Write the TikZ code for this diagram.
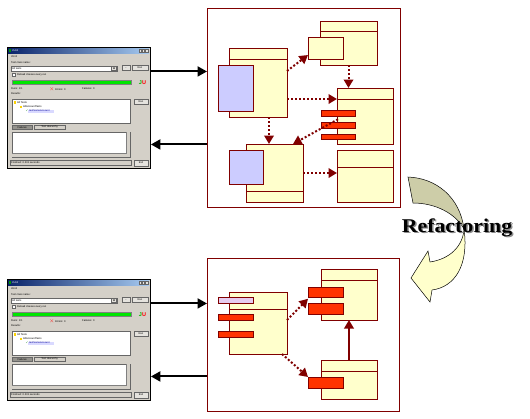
\documentclass[tikz,border=0pt]{standalone}
\usepackage{amssymb}
\usepackage{fontspec}
\setmainfont{Liberation Serif}
\newfontfamily\uifont{Liberation Sans}
\usetikzlibrary{arrows.meta,calc}
\definecolor{dred}{HTML}{800000}
\definecolor{clsfill}{HTML}{FFFFCC}
\definecolor{bluefill}{HTML}{CCCCFF}
\definecolor{barfill}{HTML}{FF3300}
\definecolor{purfill}{HTML}{E6CCF0}
\definecolor{wingray}{HTML}{D4D0C8}
\definecolor{olivec}{HTML}{CDCDA8}
\definecolor{palec}{HTML}{FFFFCC}
\definecolor{titleA}{RGB}{10,36,106}
\definecolor{titleB}{RGB}{166,202,240}
\definecolor{jgreen}{RGB}{0,230,0}
\tikzset{
  box/.style={draw=dred, line width=0.6pt, anchor=north west, inner sep=0pt, outer sep=0pt},
  cls/.style={box, fill=clsfill},
  bluebox/.style={box, fill=bluefill},
  redbar/.style={box, fill=barfill},
  purbar/.style={box, fill=purfill},
  frm/.style={draw=dred, line width=0.8pt, fill=white, anchor=north west, inner sep=0pt, outer sep=0pt},
  dep/.style={draw=dred, line width=2pt, dash pattern=on 2pt off 2pt, -{Triangle[length=8.5pt,width=9.5pt]}},
  solidred/.style={draw=dred, line width=1.8pt, -{Triangle[length=8.5pt,width=9.5pt]}},
  blk/.style={draw=black, line width=2pt, -{Triangle[length=9.5pt,width=10pt]}},
  hdr/.style={draw=dred, line width=0.6pt},
  uitxt/.style={font=\uifont\fontsize{2.6}{3}\selectfont, inner sep=0pt, anchor=west},
  btn/.style={draw=black!60, fill=wingray!60!white, line width=0.3pt, inner sep=0pt, font=\uifont\fontsize{2.6}{3}\selectfont},
  whitebox/.style={draw=black!60, fill=white, line width=0.3pt, anchor=north west, inner sep=0pt},
  junitwin/.pic={
    \node[draw=black, line width=0.9pt, fill=wingray, anchor=north west, minimum width=143pt, minimum height=121pt, inner sep=0pt] (-win) at (0,0) {};
    \fill[left color=titleA, right color=titleB] (1,1) rectangle (142,6);
    \fill[green!60!black] (1.5,2) rectangle (3.5,5);
    \node[uitxt, text=white] (-title) at (5,3.5) {JUnit};
    \node[btn, minimum width=2.5pt, minimum height=3pt] (-b1) at (133,3.5) {};
    \node[btn, minimum width=2.5pt, minimum height=3pt] (-b2) at (136,3.5) {};
    \node[btn, minimum width=2.5pt, minimum height=3pt] (-b3) at (139.5,3.5) {};
    \node[uitxt] (-menu) at (4,9.5) {JUnit};
    \node[uitxt] (-lbl) at (4,15.5) {Test class name:};
    \node[whitebox, minimum width=106pt, minimum height=4.5pt] (-field) at (4,19) {};
    \node[uitxt] (-alltests) at (5,21.25) {All tests};
    \node[btn, minimum width=5pt, minimum height=4.5pt] (-dd) at (107,21.25) {};
    \fill[black] (105.8,20.5) -- (108.2,20.5) -- (107,22) -- cycle;
    \node[btn, minimum width=8pt, minimum height=5pt] (-dots) at (119,21) {...};
    \node[btn, minimum width=16pt, minimum height=5pt] (-run) at (133,21) {Run};
    \node[whitebox, minimum width=3pt, minimum height=3pt] (-chk) at (5,26) {};
    \node[uitxt] (-reload) at (10,27.5) {Reload classes every run};
    \node[draw=black!50, fill=jgreen, line width=0.3pt, anchor=north west, minimum width=119pt, minimum height=4pt, inner sep=0pt] (-bar) at (5,33) {};
    \node[inner sep=0pt, font=\uifont\bfseries\fontsize{5.5}{6}\selectfont] (-ju) at (135.5,36) {\textcolor{green!70!black}{J}\textcolor{red}{U}};
    \node[uitxt] (-runs) at (4,42) {Runs: 1/1};
    \node[uitxt] (-err) at (42,42) {\textcolor{red}{$\times$} Errors: 0};
    \node[uitxt] (-fail) at (75,42) {Failures: 0};
    \node[uitxt] (-res) at (4,47) {Results:};
    \node[whitebox, minimum width=118pt, minimum height=24pt] (-tree) at (5,52) {};
    \node[btn, minimum width=14pt, minimum height=5pt] (-run2) at (134,54.5) {Run};
    \fill[yellow!70!orange] (6.5,54) rectangle (9,56.5);
    \node[uitxt] (-t1) at (10,55.25) {All Tests};
    \fill[yellow!70!orange] (12.5,58.5) rectangle (15,61);
    \node[uitxt] (-t2) at (16,59.75) {AllAccountTests};
    \fill[blue!15] (21,62.5) rectangle (47,65.5);
    \node[uitxt, text=green!50!black] (-tick) at (18.5,64) {\checkmark};
    \node[uitxt, text=blue!60!black] (-t3) at (22,64) {testSomeAccount};
    \node[btn, fill=wingray!70!black, minimum width=20pt, minimum height=4pt, anchor=north west] (-tab1) at (5,78) {Failures};
    \node[btn, fill=wingray, minimum width=31pt, minimum height=4pt, anchor=north west] (-tab2) at (27,78) {Test Hierarchy};
    \node[whitebox, minimum width=118pt, minimum height=25pt] (-out) at (5,85) {};
    \fill[wingray] (119,85.3) rectangle (122.7,106);
    \fill[wingray] (5.3,106) rectangle (122.7,109.7);
    \draw[black!50, line width=0.2pt] (119,85) -- (119,106) -- (5,106);
    \node[whitebox, fill=wingray, minimum width=121pt, minimum height=5pt] (-status) at (3,113) {};
    \node[uitxt] (-fin) at (4,115.5) {Finished: 0.201 seconds};
    \node[btn, minimum width=14pt, minimum height=6pt] (-exit) at (134,116) {Exit};
  }
}
\begin{document}
\begin{tikzpicture}[x=1pt,y=-1pt]
\useasboundingbox (0,0) rectangle (530,418);
\fill[white] (0,0) rectangle (530,418);

% screenshots
\pic (w1) at (7,47) {junitwin};
\pic (w2) at (7,279) {junitwin};

% frames
\node[frm, minimum width=193pt, minimum height=199pt] (f1) at (207,8) {};
\node[frm, minimum width=192pt, minimum height=153pt] (f2) at (207,258) {};

% top frame content
\node[cls, minimum width=57pt, minimum height=44pt] (c2) at (320,21) {};
\draw[hdr] ([yshift=-10.7pt]c2.north west) -- ([yshift=-10.7pt]c2.north east);
\node[cls, minimum width=35pt, minimum height=22pt] (s2) at (308,37) {};
\node[cls, minimum width=58pt, minimum height=69pt] (c1) at (229,48) {};
\draw[hdr] ([yshift=-11pt]c1.north west) -- ([yshift=-11pt]c1.north east);
\node[bluebox, minimum width=35pt, minimum height=46pt] (b1) at (218,65) {};
\node[cls, minimum width=56pt, minimum height=56pt] (c3) at (337,88) {};
\draw[hdr] ([yshift=-11pt]c3.north west) -- ([yshift=-11pt]c3.north east);
\node[redbar, minimum width=34pt, minimum height=5.5pt] (r1) at (321,110.5) {};
\node[redbar, minimum width=34pt, minimum height=5.5pt] (r2) at (321,122.5) {};
\node[redbar, minimum width=34pt, minimum height=5.5pt] (r3) at (321,134) {};
\node[cls, minimum width=57pt, minimum height=58pt] (c4) at (246,144) {};
\draw[hdr] ([yshift=11pt]c4.south west) -- ([yshift=11pt]c4.south east);
\node[bluebox, minimum width=34pt, minimum height=34pt] (b4) at (229,150) {};
\node[cls, minimum width=56pt, minimum height=52pt] (c5) at (337,150) {};
\draw[hdr] ([yshift=-17pt]c5.north west) -- ([yshift=-17pt]c5.north east);

\draw[dep] ([yshift=-23pt]c1.north east) -- ([yshift=4pt]s2.south west);
\draw[dep] (c2.south) -- (c2.south |- c3.north);
\draw[dep] ([yshift=-16.5pt]c1.east) -- ([yshift=-16.5pt]c1.east -| c3.west);
\draw[dep] ([xshift=11pt]c1.south) -- ([xshift=11pt]c1.south |- c4.north);
\draw[dep] ($(r1.south)!0.5!(r2.north)$) -- ([xshift=18.5pt]c4.north);
\draw[dep] (c4.east) -- (c4.east -| c5.west);

% bottom frame content
\node[cls, minimum width=58pt, minimum height=62pt] (d1) at (229,292) {};
\draw[hdr] ([yshift=-17pt]d1.north west) -- ([yshift=-17pt]d1.north east);
\node[purbar, minimum width=35pt, minimum height=6pt] (p1) at (218,297) {};
\node[redbar, minimum width=35pt, minimum height=6.5pt] (q1) at (218,314) {};
\node[redbar, minimum width=35pt, minimum height=6pt] (q2) at (218,331) {};
\node[cls, minimum width=56pt, minimum height=51pt] (d2) at (321,269) {};
\draw[hdr] ([yshift=-11pt]d2.north west) -- ([yshift=-11pt]d2.north east);
\node[redbar, minimum width=35pt, minimum height=10pt] (q3) at (308,287) {};
\node[redbar, minimum width=35pt, minimum height=11pt] (q4) at (308,303) {};
\node[cls, minimum width=56pt, minimum height=39pt] (d3) at (321,360) {};
\draw[hdr] ([yshift=-11pt]d3.north west) -- ([yshift=-11pt]d3.north east);
\node[redbar, minimum width=35pt, minimum height=11pt] (q5) at (308,377) {};

\draw[dep] ([yshift=-28pt]d1.north east) -- ($(q3.south west)!0.3!(q4.north west)$);
\draw[dep] ([xshift=-5pt]d1.south east) -- (q5.north west);
\draw[solidred] (d3.north) -- (d3.north |- d2.south);

% black arrows
\draw[blk] ([yshift=36.5pt]w1-win.east) -- ([yshift=36.5pt]w1-win.east -| f1.west);
\draw[blk] ([yshift=-36.5pt]w1-win.east -| f1.west) -- ([yshift=-36.5pt]w1-win.east);
\draw[blk] ([yshift=36.5pt]w2-win.east) -- ([yshift=36.5pt]w2-win.east -| f2.west);
\draw[blk] ([yshift=-36.5pt]w2-win.east -| f2.west) -- ([yshift=-36.5pt]w2-win.east);

% refactoring arrow
\filldraw[fill=olivec, draw=black, line width=0.5pt] (408,177) .. controls (436,178) and (460,197) .. (464,229) .. controls (456,214) and (436,203) .. (413,203) -- cycle;
\filldraw[fill=palec, draw=black, line width=0.5pt] (464,229) .. controls (463,246) and (450,259) .. (430,262) -- (428,251) -- (411,278) -- (430,302) -- (432,290) .. controls (455,287) and (469,265) .. (464,229) -- cycle;
\node[anchor=base, inner sep=0pt, text=black!45, font=\bfseries\fontsize{19.5}{22}\selectfont] (refshadow) at (458.5,233.5) {\scalebox{1.12}[1]{Refactoring}};
\node[anchor=base, inner sep=0pt, font=\bfseries\fontsize{19.5}{22}\selectfont] (reftxt) at (457,232) {\scalebox{1.12}[1]{Refactoring}};
\end{tikzpicture}
\end{document}
